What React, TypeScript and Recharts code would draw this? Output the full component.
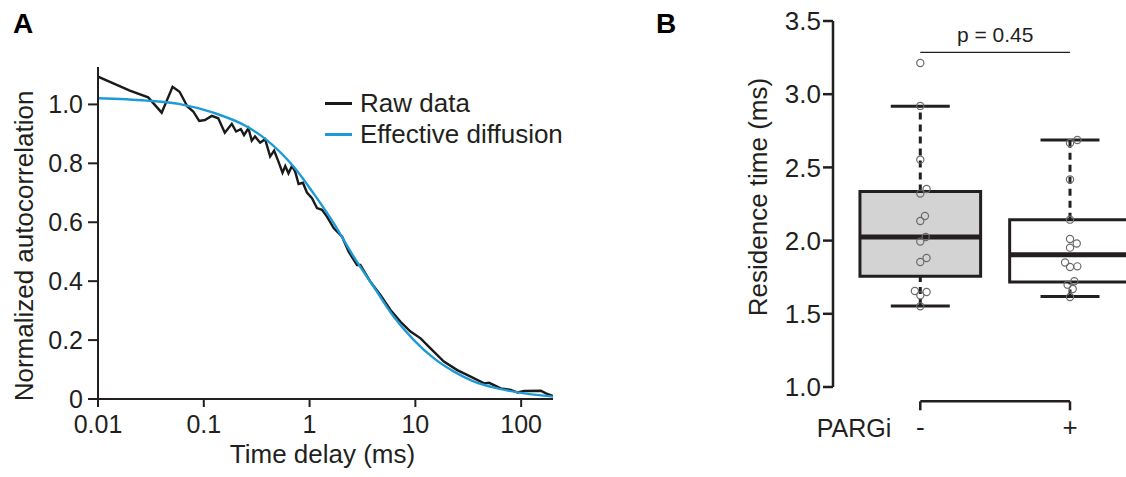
import React from 'react';
import {
    LineChart, Line, XAxis, YAxis, Legend, Label,
    ComposedChart, Scatter, ReferenceArea, ReferenceLine
} from 'recharts';

const FONT = '"Liberation Sans", Arial, Helvetica, sans-serif';
const INK = '#231f20';
const BLUE = '#1e9bd7';

// Panel A - autocorrelation vs time delay (ms)
const rawTime = [
    0.01, 0.02, 0.0298, 0.04, 0.0507, 0.059, 0.07, 0.0795, 0.0905, 0.1025,
    0.119, 0.137, 0.158, 0.184, 0.202, 0.224, 0.24, 0.264, 0.284, 0.305,
    0.341, 0.38, 0.424, 0.462, 0.508, 0.555, 0.589, 0.632, 0.681, 0.731,
    0.787, 0.865, 0.944, 1.054, 1.175, 1.31, 1.46, 1.69, 2.03, 2.34,
    2.81, 3.02, 3.76, 4.67, 5.82, 7.24, 9.0, 11.2, 13.9, 18.6,
    24.9, 33.3, 44.6, 49.8, 64.1, 79.7, 92.4, 106.7, 153.6, 171.4, 200
];
const rawValue = [
    1.094, 1.047, 1.024, 0.972, 1.06, 1.043, 0.993, 0.976, 0.944, 0.947,
    0.961, 0.953, 0.904, 0.934, 0.908, 0.916, 0.896, 0.919, 0.877, 0.891,
    0.87, 0.882, 0.823, 0.843, 0.806, 0.768, 0.791, 0.766, 0.791, 0.772,
    0.73, 0.734, 0.701, 0.682, 0.648, 0.642, 0.619, 0.58, 0.551, 0.5,
    0.455, 0.455, 0.398, 0.353, 0.302, 0.262, 0.229, 0.206, 0.172, 0.127,
    0.098, 0.076, 0.053, 0.055, 0.036, 0.031, 0.022, 0.027, 0.028, 0.019, 0.01
];
const fitTime = [
    0.01, 0.0288, 0.0594, 0.123, 0.255, 0.394, 0.705, 1.09, 1.69, 2.61,
    4.04, 6.25, 9.68, 15.0, 23.2, 35.9, 59.7, 107, 200
];
const fitValue = [
    1.021, 1.013, 1.001, 0.972, 0.925, 0.879, 0.789, 0.698, 0.597, 0.483,
    0.381, 0.279, 0.2, 0.138, 0.093, 0.059, 0.036, 0.019, 0.008
];
const timeTicks = [0.01, 0.1, 1, 10, 100];
const corrTicks = [0, 0.2, 0.4, 0.6, 0.8, 1.0];
const legendNames = ['Raw data', 'Effective diffusion'];

// Panel B - residence time box plots
const groups = ['-', '+'];
const whiskerLow = [1.553, 1.619];
const boxQ1 = [1.756, 1.717];
const boxMedian = [2.025, 1.904];
const boxQ3 = [2.335, 2.143];
const whiskerHigh = [2.917, 2.687];
const minusValues = [3.213, 2.92, 2.553, 2.352, 2.321, 2.168, 2.134, 2.025, 1.993, 1.881, 1.854, 1.656, 1.649, 1.626, 1.551];
const minusJitter = [0, 0, 0, 0.042, 0, 0.031, 0, 0.036, 0, 0.042, 0, -0.036, 0.042, 0, 0];
const plusValues = [2.687, 2.667, 2.417, 2.143, 2.011, 1.98, 1.952, 1.85, 1.82, 1.824, 1.722, 1.699, 1.669, 1.615];
const plusJitter = [0.049, 0, 0, 0, 0, 0.045, 0, -0.033, 0, 0.049, 0.029, -0.016, 0.018, 0];
const residenceTicks = [1.0, 1.5, 2.0, 2.5, 3.0, 3.5];
const pText = 'p = 0.45';
const pLevel = 3.286;

const rawData = rawTime.map((t, i) => ({t, v: rawValue[i]}));
const fitData = fitTime.map((t, i) => ({t, v: fitValue[i]}));
const pointData = [
    ...minusValues.map((y, i) => ({x: 1 + minusJitter[i], y})),
    ...plusValues.map((y, i) => ({x: 2 + plusJitter[i], y})),
];

const BOX_HALF = 0.403;
const CAP_HALF = 0.197;

const renderLegend = (props: any) => {
    const payload = props.payload || [];
    const items = legendNames.map(n => payload.find((p: any) => p.value === n)).filter(Boolean);
    return (
        <div>
            {items.map((p: any) => (
                <div key={p.value} style={{display: 'flex', alignItems: 'center', height: 31}}>
                    <span style={{display: 'inline-block', width: 27, height: 3, background: p.color, marginRight: 8}}/>
                    <span style={{fontSize: 26, fontFamily: FONT, color: INK, lineHeight: '31px', whiteSpace: 'nowrap'}}>
                        {p.value}
                    </span>
                </div>
            ))}
        </div>
    );
};

// rotated axis title, baseline at bx, centred on cy
const verticalTitle = (text: string, dx: number, dy: number, size: number) => (props: any) => {
    const {x, y, height} = props.viewBox;
    const bx = x + dx;
    const cy = y + height / 2 + dy;
    return (
        <text x={bx} y={cy} transform={`rotate(-90 ${bx} ${cy})`} textAnchor="middle"
              fontSize={size} fontFamily={FONT} fill={INK}>
            {text}
        </text>
    );
};

const hollowDot = (p: any) => (
    <circle cx={p.cx} cy={p.cy} r={3.6} fill="none" stroke="#6b6b6b" strokeWidth={1.2}/>
);

const tickStyle = (size: number) => ({fill: INK, fontSize: size, fontFamily: FONT});

const App: React.FC = () => {
    return (
        <div style={{position: 'relative', width: 1126, height: 477, background: '#fff', overflow: 'hidden'}}>
            <style>{'body{margin:0}'}</style>
            <div style={{position: 'absolute', left: 13, top: 10, fontSize: 28, fontWeight: 'bold', fontFamily: FONT, lineHeight: 1, color: '#000'}}>A</div>
            <div style={{position: 'absolute', left: 656, top: 10, fontSize: 28, fontWeight: 'bold', fontFamily: FONT, lineHeight: 1, color: '#000'}}>B</div>

            <div style={{position: 'absolute', left: 0, top: 0}}>
                <LineChart width={570} height={477} margin={{top: 67, right: 17, bottom: 0, left: 0}}>
                    <XAxis dataKey="t" type="number" scale="log" domain={[0.01, 200]} allowDataOverflow
                           ticks={timeTicks} interval={0} tickFormatter={(v) => String(v)}
                           height={78} stroke={INK} strokeWidth={2} tickSize={8} tickMargin={8}
                           tick={tickStyle(25)}>
                        <Label value="Time delay (ms)" position="insideBottom" offset={14} dx={-3}
                               fontSize={26} fontFamily={FONT} fill={INK}/>
                    </XAxis>
                    <YAxis type="number" domain={[0, 1.127]} allowDataOverflow ticks={corrTicks} interval={0}
                           tickFormatter={(v) => (v === 0 ? '0' : v.toFixed(1))}
                           width={98} stroke={INK} strokeWidth={2} tickSize={10} tickMargin={5}
                           tick={tickStyle(25)}>
                        <Label content={verticalTitle('Normalized autocorrelation', 33, 13, 26)}/>
                    </YAxis>
                    <Legend layout="vertical" align="center" verticalAlign="middle"
                            wrapperStyle={{top: 88, left: 325, width: 'auto'}} content={renderLegend}/>
                    <Line data={rawData} dataKey="v" name="Raw data" type="linear" stroke="#1a1a1a"
                          strokeWidth={2.4} dot={false} isAnimationActive={false}/>
                    <Line data={fitData} dataKey="v" name="Effective diffusion" type="monotone" stroke={BLUE}
                          strokeWidth={2.4} dot={false} isAnimationActive={false}/>
                </LineChart>
            </div>

            <div style={{position: 'absolute', left: 740, top: 0}}>
                <ComposedChart width={386} height={477} data={pointData}
                               margin={{top: 21, right: 0, bottom: 0, left: 0}}>
                    <XAxis dataKey="x" type="number" domain={[0.417, 2.374]} allowDataOverflow
                           ticks={[1, 2]} interval={0} tickFormatter={(v) => groups[Math.round(v) - 1]}
                           axisLine={false} tickLine={false} height={90} tickMargin={25}
                           tick={tickStyle(26)}>
                        <Label content={(p: any) => (
                            <text x={p.viewBox.x - 16.3} y={p.viewBox.y + 50} fontSize={25}
                                  fontFamily={FONT} fill={INK}>PARGi</text>
                        )}/>
                    </XAxis>
                    <YAxis dataKey="y" type="number" domain={[1, 3.5]} allowDataOverflow ticks={residenceTicks}
                           interval={0} tickFormatter={(v) => v.toFixed(1)}
                           width={93} stroke={INK} strokeWidth={2.5} tickSize={10} tickMargin={2}
                           tick={tickStyle(26)}>
                        <Label content={verticalTitle('Residence time (ms)', 27, -7, 26)}/>
                    </YAxis>

                    {groups.map((g, i) => (
                        <ReferenceArea key={`box${g}`} x1={i + 1 - BOX_HALF} x2={i + 1 + BOX_HALF}
                                       y1={boxQ1[i]} y2={boxQ3[i]} ifOverflow="visible"
                                       fill={i === 0 ? '#d3d3d3' : '#ffffff'} fillOpacity={1}
                                       stroke={INK} strokeWidth={3}/>
                    ))}
                    {groups.map((g, i) => (
                        <ReferenceLine key={`up${g}`} ifOverflow="visible" stroke={INK} strokeWidth={3}
                                       strokeDasharray="7 5"
                                       segment={[{x: i + 1, y: boxQ3[i]}, {x: i + 1, y: whiskerHigh[i]}]}/>
                    ))}
                    {groups.map((g, i) => (
                        <ReferenceLine key={`dn${g}`} ifOverflow="visible" stroke={INK} strokeWidth={3}
                                       strokeDasharray="7 5"
                                       segment={[{x: i + 1, y: whiskerLow[i]}, {x: i + 1, y: boxQ1[i]}]}/>
                    ))}
                    {groups.map((g, i) => (
                        <ReferenceLine key={`capH${g}`} ifOverflow="visible" stroke={INK} strokeWidth={3}
                                       segment={[{x: i + 1 - CAP_HALF, y: whiskerHigh[i]}, {x: i + 1 + CAP_HALF, y: whiskerHigh[i]}]}/>
                    ))}
                    {groups.map((g, i) => (
                        <ReferenceLine key={`capL${g}`} ifOverflow="visible" stroke={INK} strokeWidth={3}
                                       segment={[{x: i + 1 - CAP_HALF, y: whiskerLow[i]}, {x: i + 1 + CAP_HALF, y: whiskerLow[i]}]}/>
                    ))}
                    {groups.map((g, i) => (
                        <ReferenceLine key={`med${g}`} ifOverflow="visible" stroke={INK} strokeWidth={5}
                                       segment={[{x: i + 1 - BOX_HALF, y: boxMedian[i]}, {x: i + 1 + BOX_HALF, y: boxMedian[i]}]}/>
                    ))}

                    {/* significance bar */}
                    <ReferenceLine ifOverflow="visible" stroke={INK} strokeWidth={1.2}
                                   segment={[{x: 1, y: pLevel}, {x: 2, y: pLevel}]}
                                   label={{value: pText, position: 'top', offset: 10, fontSize: 21, fontFamily: FONT, fill: INK}}/>

                    {/* group bracket under the plot */}
                    <ReferenceLine ifOverflow="visible" stroke={INK} strokeWidth={2.5}
                                   segment={[{x: 1, y: 0.902}, {x: 2, y: 0.902}]}/>
                    <ReferenceLine ifOverflow="visible" stroke={INK} strokeWidth={2.5}
                                   segment={[{x: 1, y: 0.902}, {x: 1, y: 0.841}]}/>
                    <ReferenceLine ifOverflow="visible" stroke={INK} strokeWidth={2.5}
                                   segment={[{x: 2, y: 0.902}, {x: 2, y: 0.841}]}/>

                    <Scatter dataKey="y" shape={hollowDot} isAnimationActive={false}/>
                </ComposedChart>
            </div>
        </div>
    );
};

export default App;
